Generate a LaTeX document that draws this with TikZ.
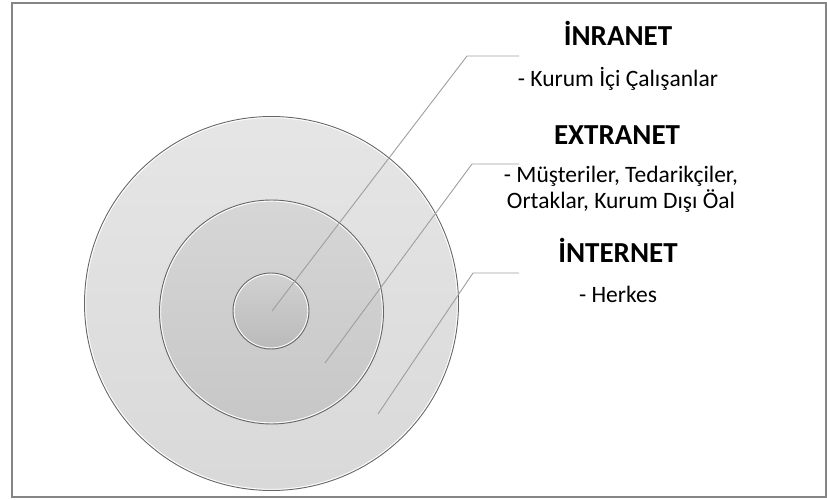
\documentclass[tikz,border=0pt]{standalone}
\usepackage{fontspec}
\setmainfont{Carlito}
\begin{document}
\begin{tikzpicture}[x=1pt,y=-1pt,
  ring/.style={circle, inner sep=0pt, draw=black!60, line width=0.9pt},
  leader/.style={draw=black!38, line width=0.9pt},
  title/.style={anchor=base, font=\fontsize{29}{32}\selectfont\bfseries},
  item/.style={anchor=base, font=\fontsize{23.5}{26}\selectfont, align=center}]
  \useasboundingbox (0,0) rectangle (827,500);
  % frame
  \draw[black!48, line width=1.6pt] (12,3) rectangle (826,497);

  % target circles
  \node[ring, minimum size=374pt, top color=black!10, bottom color=black!15] (outer) at (271.5,303.5) {};
  \draw[white, line width=0.8pt] (outer.center) circle[radius=185.8pt];
  \node[ring, minimum size=224pt, top color=black!16, bottom color=black!22] (middle) at (271.5,312) {};
  \draw[white, line width=0.8pt] (middle.center) circle[radius=110.8pt];
  \node[ring, minimum size=76pt, top color=black!18, bottom color=black!27] (inner) at (271,311) {};
  \draw[white, line width=0.8pt] (inner.center) circle[radius=36.8pt];

  % leader lines
  \coordinate (p1) at (272,311);
  \coordinate (k1) at (467,56);
  \coordinate (e1) at (519,56);
  \coordinate (p2) at (325,363);
  \coordinate (k2) at (472,164);
  \coordinate (e2) at (519,164);
  \coordinate (p3) at (378,414);
  \coordinate (k3) at (473,273);
  \coordinate (e3) at (519,273);
  \draw[leader] (p1) -- (k1) -- (e1);
  \draw[leader] (p2) -- (k2) -- (e2);
  \draw[leader] (p3) -- (k3) -- (e3);

  % labels
  \node[title] (t1) at (618,46) {İNRANET};
  \node[item]  (s1) at (618,87) {- Kurum İçi Çalışanlar};
  \node[title] (t2) at (617,144) {EXTRANET};
  \node[item]  (s2) at (621,182) {- Müşteriler, Tedarikçiler,};
  \node[item]  (s3) at (621,208) {Ortaklar, Kurum Dışı Öal};
  \node[title] (t3) at (618,262) {İNTERNET};
  \node[item]  (s4) at (618,302) {- Herkes};
\end{tikzpicture}
\end{document}
